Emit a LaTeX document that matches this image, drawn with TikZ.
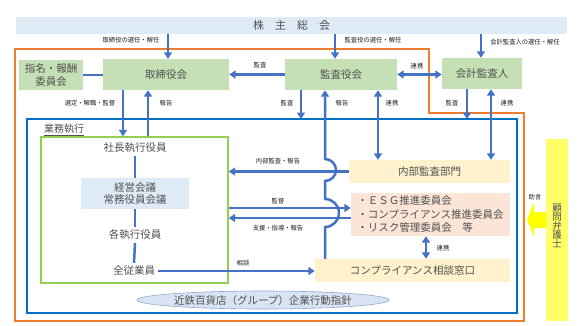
\documentclass[tikz,border=0pt]{standalone}
\usepackage{fontspec}
\setmainfont{Noto Sans CJK JP}
\usetikzlibrary{arrows.meta}
\definecolor{arrblue}{RGB}{68,114,196}
\definecolor{txtgray}{RGB}{80,80,80}
\definecolor{lbltxt}{RGB}{30,30,30}
\definecolor{barblue}{RGB}{222,235,247}
\definecolor{boxgreen}{RGB}{197,224,180}
\definecolor{boxyellow}{RGB}{255,242,204}
\definecolor{boxpeach}{RGB}{251,229,214}
\definecolor{framegreen}{RGB}{146,208,80}
\definecolor{frameblue}{RGB}{0,112,192}
\definecolor{frameorange}{RGB}{237,125,49}
\definecolor{komonyellow}{RGB}{255,255,102}
\definecolor{arrowyellow}{RGB}{255,255,0}
\definecolor{ellfill}{RGB}{218,227,243}
\definecolor{elldraw}{RGB}{143,170,210}
\begin{document}
\begin{tikzpicture}[x=1pt,y=-1pt,
  every node/.style={font=\fontsize{10.5}{12}\selectfont, text=txtgray},
  box/.style={inner sep=0pt, anchor=center},
  arr/.style={draw=arrblue, line width=2.5pt, -{Triangle[length=6.5pt,width=8pt]}},
  darr/.style={draw=arrblue, line width=2.5pt, {Triangle[length=6.5pt,width=8pt]}-{Triangle[length=6.5pt,width=8pt]}},
  conn/.style={draw=arrblue, line width=2.5pt},
  lbl/.style={font=\fontsize{6.3}{7}\selectfont, text=lbltxt, inner sep=0pt},
]
\useasboundingbox (0,0) rectangle (577,325);

% frames
\draw[frameorange, line width=1.3pt] (15,49) -- (429,49) -- (429,113) -- (524,113) -- (524,321) -- (15,321) -- cycle;
\draw[frameblue, line width=1.3pt] (27,119) rectangle (517,313);
\coordinate (btop) at (0,119);

% shareholders bar
\node[box, fill=barblue, minimum width=551pt, minimum height=17pt, font=\fontsize{11}{12}\selectfont] (bar) at (291.5,25.5) {株　主　総　会};

% top row boxes
\node[box, fill=boxgreen, minimum width=64pt, minimum height=30pt, align=center, font=\fontsize{10.5}{13}\selectfont] (shimei) at (51,75) {指名・報酬\\委員会};
\node[box, fill=boxgreen, minimum width=126pt, minimum height=31pt] (tori) at (166,74.5) {取締役会};
\node[box, fill=boxgreen, minimum width=112pt, minimum height=31pt] (kansa) at (341,74.5) {監査役会};
\node[box, fill=boxgreen, minimum width=80pt, minimum height=31pt] (kaikei) at (482,73.5) {会計監査人};

% execution area
\node[inner sep=0pt, font=\fontsize{10}{12}\selectfont] (gyomu) at (64,130) {\underline{業務執行}};
\node[box, draw=framegreen, line width=1.3pt, minimum width=187pt, minimum height=146pt] (exec) at (134.5,210) {};
\node[inner sep=3pt] (shacho) at (135,148) {社長執行役員};
\node[box, fill=barblue, minimum width=108pt, minimum height=31pt, align=center, font=\fontsize{10.5}{12.5}\selectfont] (keiei) at (135,193.5) {経営会議\\常務役員会議};
\node[inner sep=3pt] (kaku) at (135,235) {各執行役員};
\node[inner sep=3pt] (zenjuu) at (134,271) {全従業員};

% right boxes
\node[box, fill=boxyellow, minimum width=161pt, minimum height=23pt] (naibu) at (429.5,171.5) {内部監査部門};
\node[box, fill=boxpeach, minimum width=159pt, minimum height=43pt, align=left, font=\fontsize{10.5}{13.5}\selectfont] (esg) at (430.5,214.5) {・ＥＳＧ推進委員会\\・コンプライアンス推進委員会\\・リスク管理委員会　等};
\node[box, fill=boxyellow, minimum width=195pt, minimum height=23pt] (soudan) at (412.5,270.5) {コンプライアンス相談窓口};

% ellipse
\fill[ellfill] (263,300) ellipse [x radius=126pt, y radius=9pt];
\draw[elldraw, line width=0.6pt] (263,300) ellipse [x radius=126pt, y radius=9pt];
\node[inner sep=0pt] (shishin) at (263,300) {近鉄百貨店（グループ）企業行動指針};

% advisor
\node[box, fill=komonyellow, minimum width=22pt, minimum height=182pt] (komon) at (557,230) {};
\node[inner sep=0pt, align=center, font=\fontsize{9.5}{9}\selectfont] (komontxt) at (557,226) {顧\\問\\弁\\護\\士};
\fill[arrowyellow] (komon.west |- 0,212) -- (534,212) -- (534,202) -- (527,219.5) -- (534,237) -- (534,228) -- (komon.west |- 0,228) -- cycle;
\node[lbl] (jogen) at (535,197) {助言};

% x positions
\coordinate (xk) at (168,0);
\coordinate (xi) at (335,0);
\coordinate (xj) at (481,0);
\coordinate (xg) at (123,0);
\coordinate (xh) at (148,0);
\coordinate (xa) at (301,0);
\coordinate (xb) at (325,0);
\coordinate (xc) at (378,0);
\coordinate (xd) at (467,0);
\coordinate (xe) at (491,0);
\coordinate (xf) at (426,0);

% shareholder arrows
\draw[arr] (bar.south -| xk) -- (tori.north -| xk);
\node[lbl] at (131,40) {取締役の選任・解任};
\draw[arr] (bar.south -| xi) -- (kansa.north -| xi);
\node[lbl] at (373,40) {監査役の選任・解任};
\draw[arr] (bar.south -| xj) -- (kaikei.north -| xj);
\node[lbl] at (525,42) {会計監査人の選任・解任};

% top row connectors
\draw[conn] (shimei.east) -- (tori.west |- shimei.east);
\draw[arr] (kansa.west) -- (tori.east);
\node[lbl] at (260,65) {監査};
\draw[darr] (kansa.east) -- (kaikei.west |- kansa.east);
\node[lbl] at (417,66) {連携};

% board to execution
\draw[arr] (tori.south -| xg) -- (exec.north -| xg);
\node[lbl] at (90,103) {選定・解職・監督};
\draw[arr] (exec.north -| xh) -- (tori.south -| xh);
\node[lbl] at (166,103) {報告};

% audit arrows
\draw[arr] (kansa.south -| xa) -- (xa |- btop);
\node[lbl] at (287,103) {監査};
\draw[darr] (kansa.south -| xc) -- (naibu.north -| xc);
\node[lbl] at (392,103) {連携};
\draw[arr] (kaikei.south -| xd) -- (xd |- btop);
\node[lbl] at (452,103) {監査};
\draw[darr] (kaikei.south -| xe) -- (naibu.north -| xe);
\node[lbl] at (507,103) {連携};

% horizontal arrows to/from execution
\draw[arr] (naibu.west) -- (exec.east |- naibu.west);
\node[lbl] at (278,161) {内部監査・報告};
\draw[arr] (exec.east |- 0,208) -- (esg.west |- 0,208);
\node[lbl] at (278,201) {監督};
\draw[arr] (esg.west |- 0,218) -- (exec.east |- 0,218);
\node[lbl] at (278,228) {支援・指導・報告};
\draw[arr] (zenjuu.east) -- (soudan.west |- zenjuu.east);
\node[lbl] at (243,263) {相談};

% esg - soudan
\draw[darr] (esg.south -| xf) -- (soudan.north -| xf);
\node[lbl] at (443,248) {連携};

% long report line with hops
\draw[arr] (soudan.north -| xb) -- (325,227)
  .. controls (332.7,227) and (339,220.7) .. (339,213)
  .. controls (339,205.3) and (332.7,199) .. (325,199)
  -- (325,181)
  .. controls (331,181) and (336,176) .. (336,170)
  .. controls (336,164) and (331,159) .. (325,159)
  -- (kansa.south -| xb);
\node[lbl] at (342,103) {報告};

% inner executive connectors
\draw[conn] (shacho.south) -- (keiei.north);
\draw[conn] (keiei.south) -- (kaku.north);
\draw[conn] (kaku.south) -- (zenjuu.north);
\end{tikzpicture}
\end{document}
